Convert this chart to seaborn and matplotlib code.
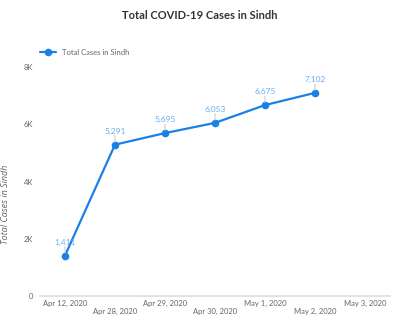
import matplotlib
matplotlib.use("Agg")
import matplotlib.pyplot as plt
import seaborn as sns
import pandas as pd
import numpy as np

dates = ["Apr 12, 2020", "Apr 28, 2020", "Apr 29, 2020", "Apr 30, 2020",
         "May 1, 2020", "May 2, 2020", "May 3, 2020"]
cases = [1411, 5291, 5695, 6053, 6675, 7102, np.nan]
yticks = [0, 2000, 4000, 6000, 8000]
yticklabels = ["0", "2K", "4K", "6K", "8K"]

sns.set_theme(style="white")
plt.rcParams['font.family'] = ['Lato', 'DejaVu Sans']

df = pd.DataFrame({"pos": range(len(dates)), "date": dates, "cases": cases})
plot_df = df.dropna()

line_color = "#1a80e6"
label_color = "#6aaef0"
text_gray = "#666666"

fig = plt.figure(figsize=(4.0, 3.31), dpi=100)
ax = fig.add_axes([0.1, 0.106, 0.875, 0.691])

sns.lineplot(data=plot_df, x="pos", y="cases", ax=ax, color=line_color,
             linewidth=1.6, marker="o", markersize=5.5, markeredgewidth=0,
             label="Total Cases in Sindh")

for _, r in plot_df.iterrows():
    ax.annotate(f"{int(r.cases):,}", xy=(r.pos, r.cases), xytext=(0, 7),
                textcoords="offset points", ha="center", va="bottom",
                fontsize=6, color=label_color)
    ax.annotate("", xy=(r.pos, r.cases), xytext=(0, 6.5),
                textcoords="offset points",
                arrowprops=dict(arrowstyle="-", color="#cccccc", lw=0.8,
                                shrinkA=0, shrinkB=2))

ax.set_xlim(-0.5, 6.5)
ax.set_ylim(0, 8000)
ax.set_xticks(df["pos"])
ax.set_xticklabels([d if i % 2 == 0 else "\n" + d for i, d in enumerate(dates)],
                   fontsize=5.5, color=text_gray)
ax.set_yticks(yticks)
ax.set_yticklabels(yticklabels, fontsize=5.5, color=text_gray)
ax.tick_params(axis="both", length=0, pad=3)
ax.tick_params(axis="y", pad=5)
ax.set_xlabel("")
ax.set_ylabel("Total Cases in Sindh", fontsize=6.5, color=text_gray,
              fontstyle="italic", family=["Open Sans", "DejaVu Sans"],
              labelpad=9)
ax.yaxis.set_label_coords(-0.085, 0.4)

for s in ["top", "right", "left"]:
    ax.spines[s].set_visible(False)
ax.spines["bottom"].set_color("#dddddd")
ax.spines["bottom"].set_linewidth(1.2)

leg = ax.legend(loc="lower left", bbox_to_anchor=(-0.01, 1.035), frameon=False,
                fontsize=5.5, handlelength=2.2, borderaxespad=0)
for t in leg.get_texts():
    t.set_color(text_gray)

fig.suptitle("Total COVID-19 Cases in Sindh", x=0.5, y=0.97, fontsize=8,
             fontweight="bold", color="#333333")

fig.savefig("out.png", dpi=100)
